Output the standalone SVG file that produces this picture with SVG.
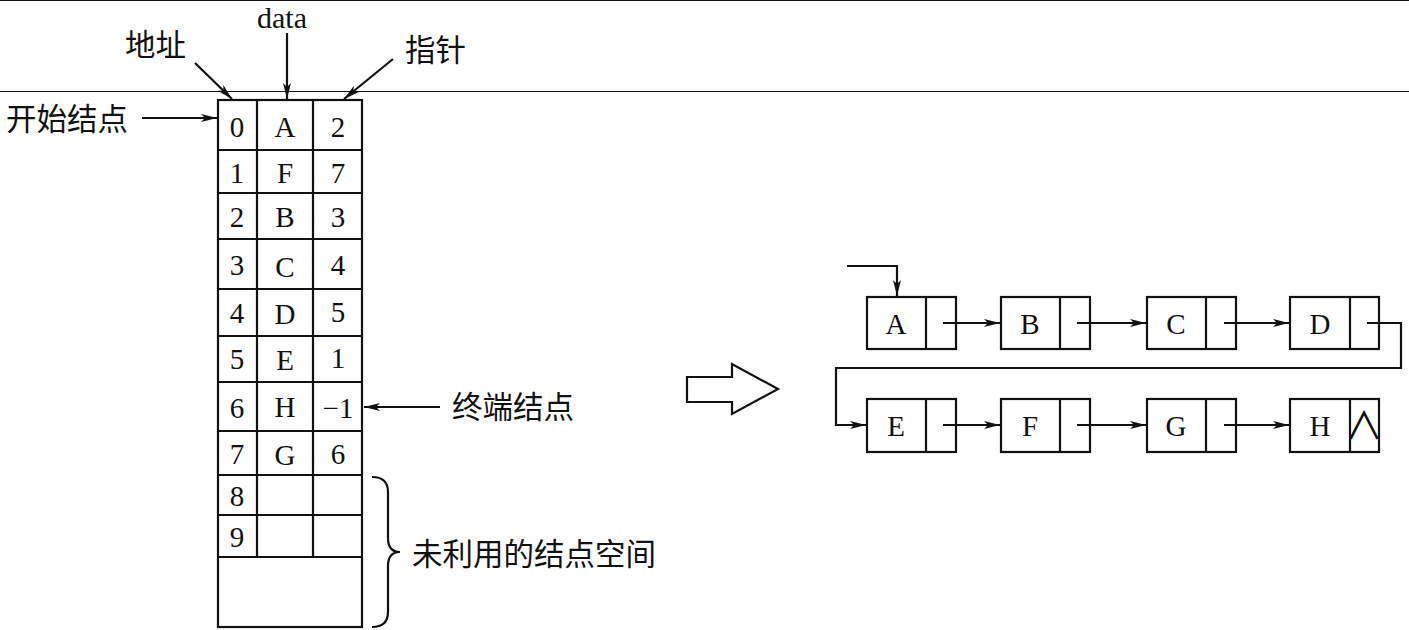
<svg xmlns="http://www.w3.org/2000/svg" width="1409" height="630" viewBox="0 0 1409 630">
<style>
  .ln{stroke:#111;stroke-width:2.2;fill:none}
  .thin{stroke:#111;stroke-width:1;fill:none}
  .box{stroke:#111;stroke-width:2.2;fill:#fff}
  .t{font-family:"Liberation Serif","Noto Sans CJK SC",serif;font-size:29px;fill:#111;text-anchor:middle;dominant-baseline:central}
  .c{font-family:"Liberation Serif","Noto Sans CJK SC",serif;font-size:30.5px;fill:#111;dominant-baseline:central}
</style>
<defs>
  <marker id="ah" markerUnits="userSpaceOnUse" markerWidth="18" markerHeight="10" refX="16" refY="5" orient="auto">
    <path d="M0,1 L16,5 L0,9 L4,5 Z" fill="#111"/>
  </marker>
</defs>
<rect width="1409" height="630" fill="#fff"/>
<line class="thin" x1="0" y1="0.5" x2="1409" y2="0.5"/>
<line class="thin" x1="0" y1="91.5" x2="1409" y2="91.5"/>

<g id="labels">
  <text class="c" x="125" y="46">地址</text>
  <text class="t" x="282" y="17" style="font-size:30px">data</text>
  <text class="c" x="405" y="51">指针</text>
  <text class="c" x="6" y="120">开始结点</text>
  <text class="c" x="452" y="408">终端结点</text>
  <text class="c" x="412" y="555">未利用的结点空间</text>
</g>

<g id="table">
  <rect class="ln" x="218" y="100" width="144" height="527"/>
  <g class="ln">
    <line x1="257" y1="100" x2="257" y2="557"/>
    <line x1="313" y1="100" x2="313" y2="557"/>
    <line x1="218" y1="150" x2="362" y2="150"/>
    <line x1="218" y1="193" x2="362" y2="193"/>
    <line x1="218" y1="239" x2="362" y2="239"/>
    <line x1="218" y1="289" x2="362" y2="289"/>
    <line x1="218" y1="336" x2="362" y2="336"/>
    <line x1="218" y1="382" x2="362" y2="382"/>
    <line x1="218" y1="431" x2="362" y2="431"/>
    <line x1="218" y1="475" x2="362" y2="475"/>
    <line x1="218" y1="515" x2="362" y2="515"/>
    <line x1="218" y1="557" x2="362" y2="557"/>
  </g>
  <g>
    <text class="t" x="237" y="127">0</text><text class="t" x="285" y="127">A</text><text class="t" x="338" y="127">2</text>
    <text class="t" x="237" y="173">1</text><text class="t" x="285" y="173">F</text><text class="t" x="338" y="173">7</text>
    <text class="t" x="237" y="217">2</text><text class="t" x="285" y="217">B</text><text class="t" x="338" y="217">3</text>
    <text class="t" x="237" y="265">3</text><text class="t" x="285" y="267">C</text><text class="t" x="338" y="265">4</text>
    <text class="t" x="237" y="313">4</text><text class="t" x="285" y="314">D</text><text class="t" x="338" y="312">5</text>
    <text class="t" x="237" y="359">5</text><text class="t" x="285" y="360">E</text><text class="t" x="338" y="358">1</text>
    <text class="t" x="237" y="408">6</text><text class="t" x="285" y="407">H</text><text class="t" x="338" y="408">−1</text>
    <text class="t" x="237" y="454">7</text><text class="t" x="285" y="455">G</text><text class="t" x="338" y="454">6</text>
    <text class="t" x="237" y="496">8</text>
    <text class="t" x="237" y="537">9</text>
  </g>
</g>

<g id="brace">
  <path class="ln" d="M372,477 Q388,477 388,492 L388,538 Q388,552 400,552 Q388,552 388,566 L388,612 Q388,627 372,627"/>
</g>

<g id="bigarrow">
  <polygon class="box" points="687,377 732,377 732,364 778,389 732,414 732,402 687,402"/>
</g>

<g id="node-A"><rect class="box" x="867" y="297" width="89" height="52"/><line class="ln" x1="926" y1="297" x2="926" y2="349"/><text class="t" x="896" y="324">A</text></g>
<g id="node-B"><rect class="box" x="1001" y="297" width="89" height="52"/><line class="ln" x1="1060" y1="297" x2="1060" y2="349"/><text class="t" x="1030" y="324">B</text></g>
<g id="node-C"><rect class="box" x="1147" y="297" width="89" height="52"/><line class="ln" x1="1206" y1="297" x2="1206" y2="349"/><text class="t" x="1176" y="324">C</text></g>
<g id="node-D"><rect class="box" x="1290" y="297" width="89" height="52"/><line class="ln" x1="1350" y1="297" x2="1350" y2="349"/><text class="t" x="1320" y="324">D</text></g>
<g id="node-E"><rect class="box" x="867" y="399" width="89" height="53"/><line class="ln" x1="926" y1="399" x2="926" y2="452"/><text class="t" x="896" y="426">E</text></g>
<g id="node-F"><rect class="box" x="1001" y="399" width="89" height="53"/><line class="ln" x1="1060" y1="399" x2="1060" y2="452"/><text class="t" x="1030" y="426">F</text></g>
<g id="node-G"><rect class="box" x="1147" y="399" width="89" height="53"/><line class="ln" x1="1206" y1="399" x2="1206" y2="452"/><text class="t" x="1176" y="426">G</text></g>
<g id="node-H"><rect class="box" x="1290" y="399" width="89" height="53"/><line class="ln" x1="1350" y1="399" x2="1350" y2="452"/><text class="t" x="1320" y="426">H</text><text class="t" x="1364" y="426" style="font-size:38px">∧</text></g>

<g id="connectors" class="ln">
  <line x1="195" y1="63" x2="232" y2="99" marker-end="url(#ah)"/>
  <line x1="287" y1="33" x2="287" y2="99" marker-end="url(#ah)"/>
  <line x1="393" y1="59" x2="344" y2="99" marker-end="url(#ah)"/>
  <line x1="142" y1="118" x2="217" y2="118" marker-end="url(#ah)"/>
  <line x1="440" y1="407" x2="364" y2="407" marker-end="url(#ah)"/>
  <polyline points="847,266 897,266 897,296" marker-end="url(#ah)"/>
  <line x1="943" y1="323" x2="1000" y2="323" marker-end="url(#ah)"/>
  <line x1="1077" y1="323" x2="1146" y2="323" marker-end="url(#ah)"/>
  <line x1="1224" y1="323" x2="1289" y2="323" marker-end="url(#ah)"/>
  <polyline points="1367,323 1401,323 1401,368 836,368 836,425 866,425" marker-end="url(#ah)"/>
  <line x1="943" y1="425" x2="1000" y2="425" marker-end="url(#ah)"/>
  <line x1="1077" y1="425" x2="1146" y2="425" marker-end="url(#ah)"/>
  <line x1="1224" y1="425" x2="1289" y2="425" marker-end="url(#ah)"/>
</g>
</svg>
